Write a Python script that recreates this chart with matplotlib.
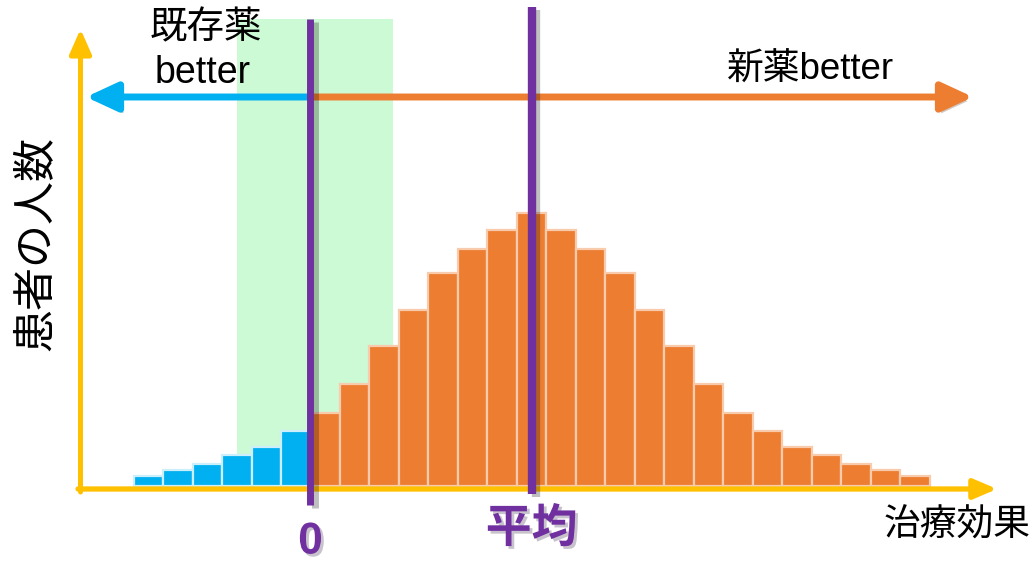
import matplotlib
matplotlib.use("Agg")
import matplotlib.pyplot as plt
import matplotlib.patheffects as pe
import numpy as np

plt.rcParams["font.family"] = ["Liberation Sans", "Noto Sans CJK JP", "DejaVu Sans"]

# histogram: treatment effect bins (width 1) and patient counts
BIN_LEFT = list(range(-6, 21))
COUNTS = [10, 16, 22, 31, 39, 55, 73, 102, 140, 176, 213, 237, 256, 273,
          256, 237, 213, 176, 140, 102, 73, 55, 39, 31, 22, 16, 10]
ZERO = 0.0
MEAN = 7.5
GREEN_BAND = (-2.5, 2.8)

ORANGE = "#ED7D31"
BLUE = "#00B0F0"
YELLOW = "#FFC000"
PURPLE = "#7030A0"
GREEN = "#CCFAD4"

# pixel geometry of the reference -> data units
PX_PER_BIN = 29.48
ZERO_PX = 310.5
BASE_PX = 486
W, H = 1033, 561


def px2x(px):
    return (px - ZERO_PX) / PX_PER_BIN


def px2y(py):
    return BASE_PX - py


fig = plt.figure(figsize=(W / 100, H / 100), dpi=100)
ax = fig.add_axes([0, 0, 1, 1])
ax.set_xlim(px2x(0), px2x(W))
ax.set_ylim(px2y(H), px2y(0))
ax.axis("off")

left = np.array(BIN_LEFT, dtype=float)
counts = np.array(COUNTS, dtype=float)
centers = left + 0.5
neg = centers < ZERO

# green band behind bars
ax.fill_between(GREEN_BAND, 0, px2y(19), color=GREEN, lw=0, zorder=1)

ax.bar(centers[neg], counts[neg], width=1.0, color=BLUE,
       edgecolor="#CDEFFC", linewidth=1.6, zorder=2)
ax.bar(centers[~neg], counts[~neg], width=1.0, color=ORANGE,
       edgecolor="#F8CBAD", linewidth=1.6, zorder=2)

shadow = [pe.SimpleLineShadow(offset=(3, -2), alpha=0.25, shadow_color="k"), pe.Normal()]
arrow_shadow = [pe.SimplePatchShadow(offset=(2, -3), alpha=0.25), pe.Normal()]

# axes drawn as yellow arrows
ax.annotate("", xy=(px2x(80.5), px2y(29)), xytext=(px2x(80.5), px2y(492)),
            arrowprops=dict(arrowstyle="-|>,head_length=0.75,head_width=0.33",
                            color=YELLOW, lw=3.6, shrinkA=0, shrinkB=0,
                            mutation_scale=20), zorder=3)
ax.annotate("", xy=(px2x(997), px2y(489)), xytext=(px2x(78), px2y(489)),
            arrowprops=dict(arrowstyle="-|>,head_length=0.7,head_width=0.3",
                            color=YELLOW, lw=3.8, shrinkA=0, shrinkB=0,
                            mutation_scale=20), zorder=3)

# better-direction arrows
arrow_y = px2y(97)
ax.annotate("", xy=(px2x(86), arrow_y), xytext=(ZERO, arrow_y),
            arrowprops=dict(arrowstyle="-|>,head_length=0.95,head_width=0.44",
                            color=BLUE, lw=5, shrinkA=0, shrinkB=0,
                            mutation_scale=20, path_effects=arrow_shadow),
            zorder=4)
ax.annotate("", xy=(px2x(973), arrow_y), xytext=(ZERO, arrow_y),
            arrowprops=dict(arrowstyle="-|>,head_length=0.95,head_width=0.44",
                            color=ORANGE, lw=5, shrinkA=0, shrinkB=0,
                            mutation_scale=20, path_effects=arrow_shadow),
            zorder=4)

# zero and mean lines
ax.plot([ZERO, ZERO], [px2y(505), px2y(19)], color=PURPLE, lw=5,
        solid_capstyle="butt", path_effects=shadow, zorder=5)
ax.plot([MEAN, MEAN], [px2y(494), px2y(7)], color=PURPLE, lw=6,
        solid_capstyle="butt", path_effects=shadow, zorder=5)

# labels
ax.text(px2x(206), px2y(28), "既存薬", fontsize=27, ha="center", va="center")
ax.text(px2x(203), px2y(83), "better", fontsize=27, ha="center", va="baseline")
ax.text(px2x(811), px2y(80), "新薬better", fontsize=26.5, ha="center", va="baseline")
ax.text(px2x(36), px2y(243), "患者の人数", fontsize=31, rotation=90,
        ha="center", va="center")
ax.text(px2x(957), px2y(526), "治療効果", fontsize=26.5, ha="center", va="center")

txt_shadow = [pe.withSimplePatchShadow(offset=(2, -2), alpha=0.25)]
ax.text(ZERO, px2y(542), "0", fontsize=32, fontweight="bold", color=PURPLE,
        ha="center", va="center", path_effects=txt_shadow)
ax.text(MEAN, px2y(530), "平均", fontsize=33, fontweight="bold", color=PURPLE,
        ha="center", va="center", path_effects=txt_shadow)

fig.savefig("out.png", dpi=100)
